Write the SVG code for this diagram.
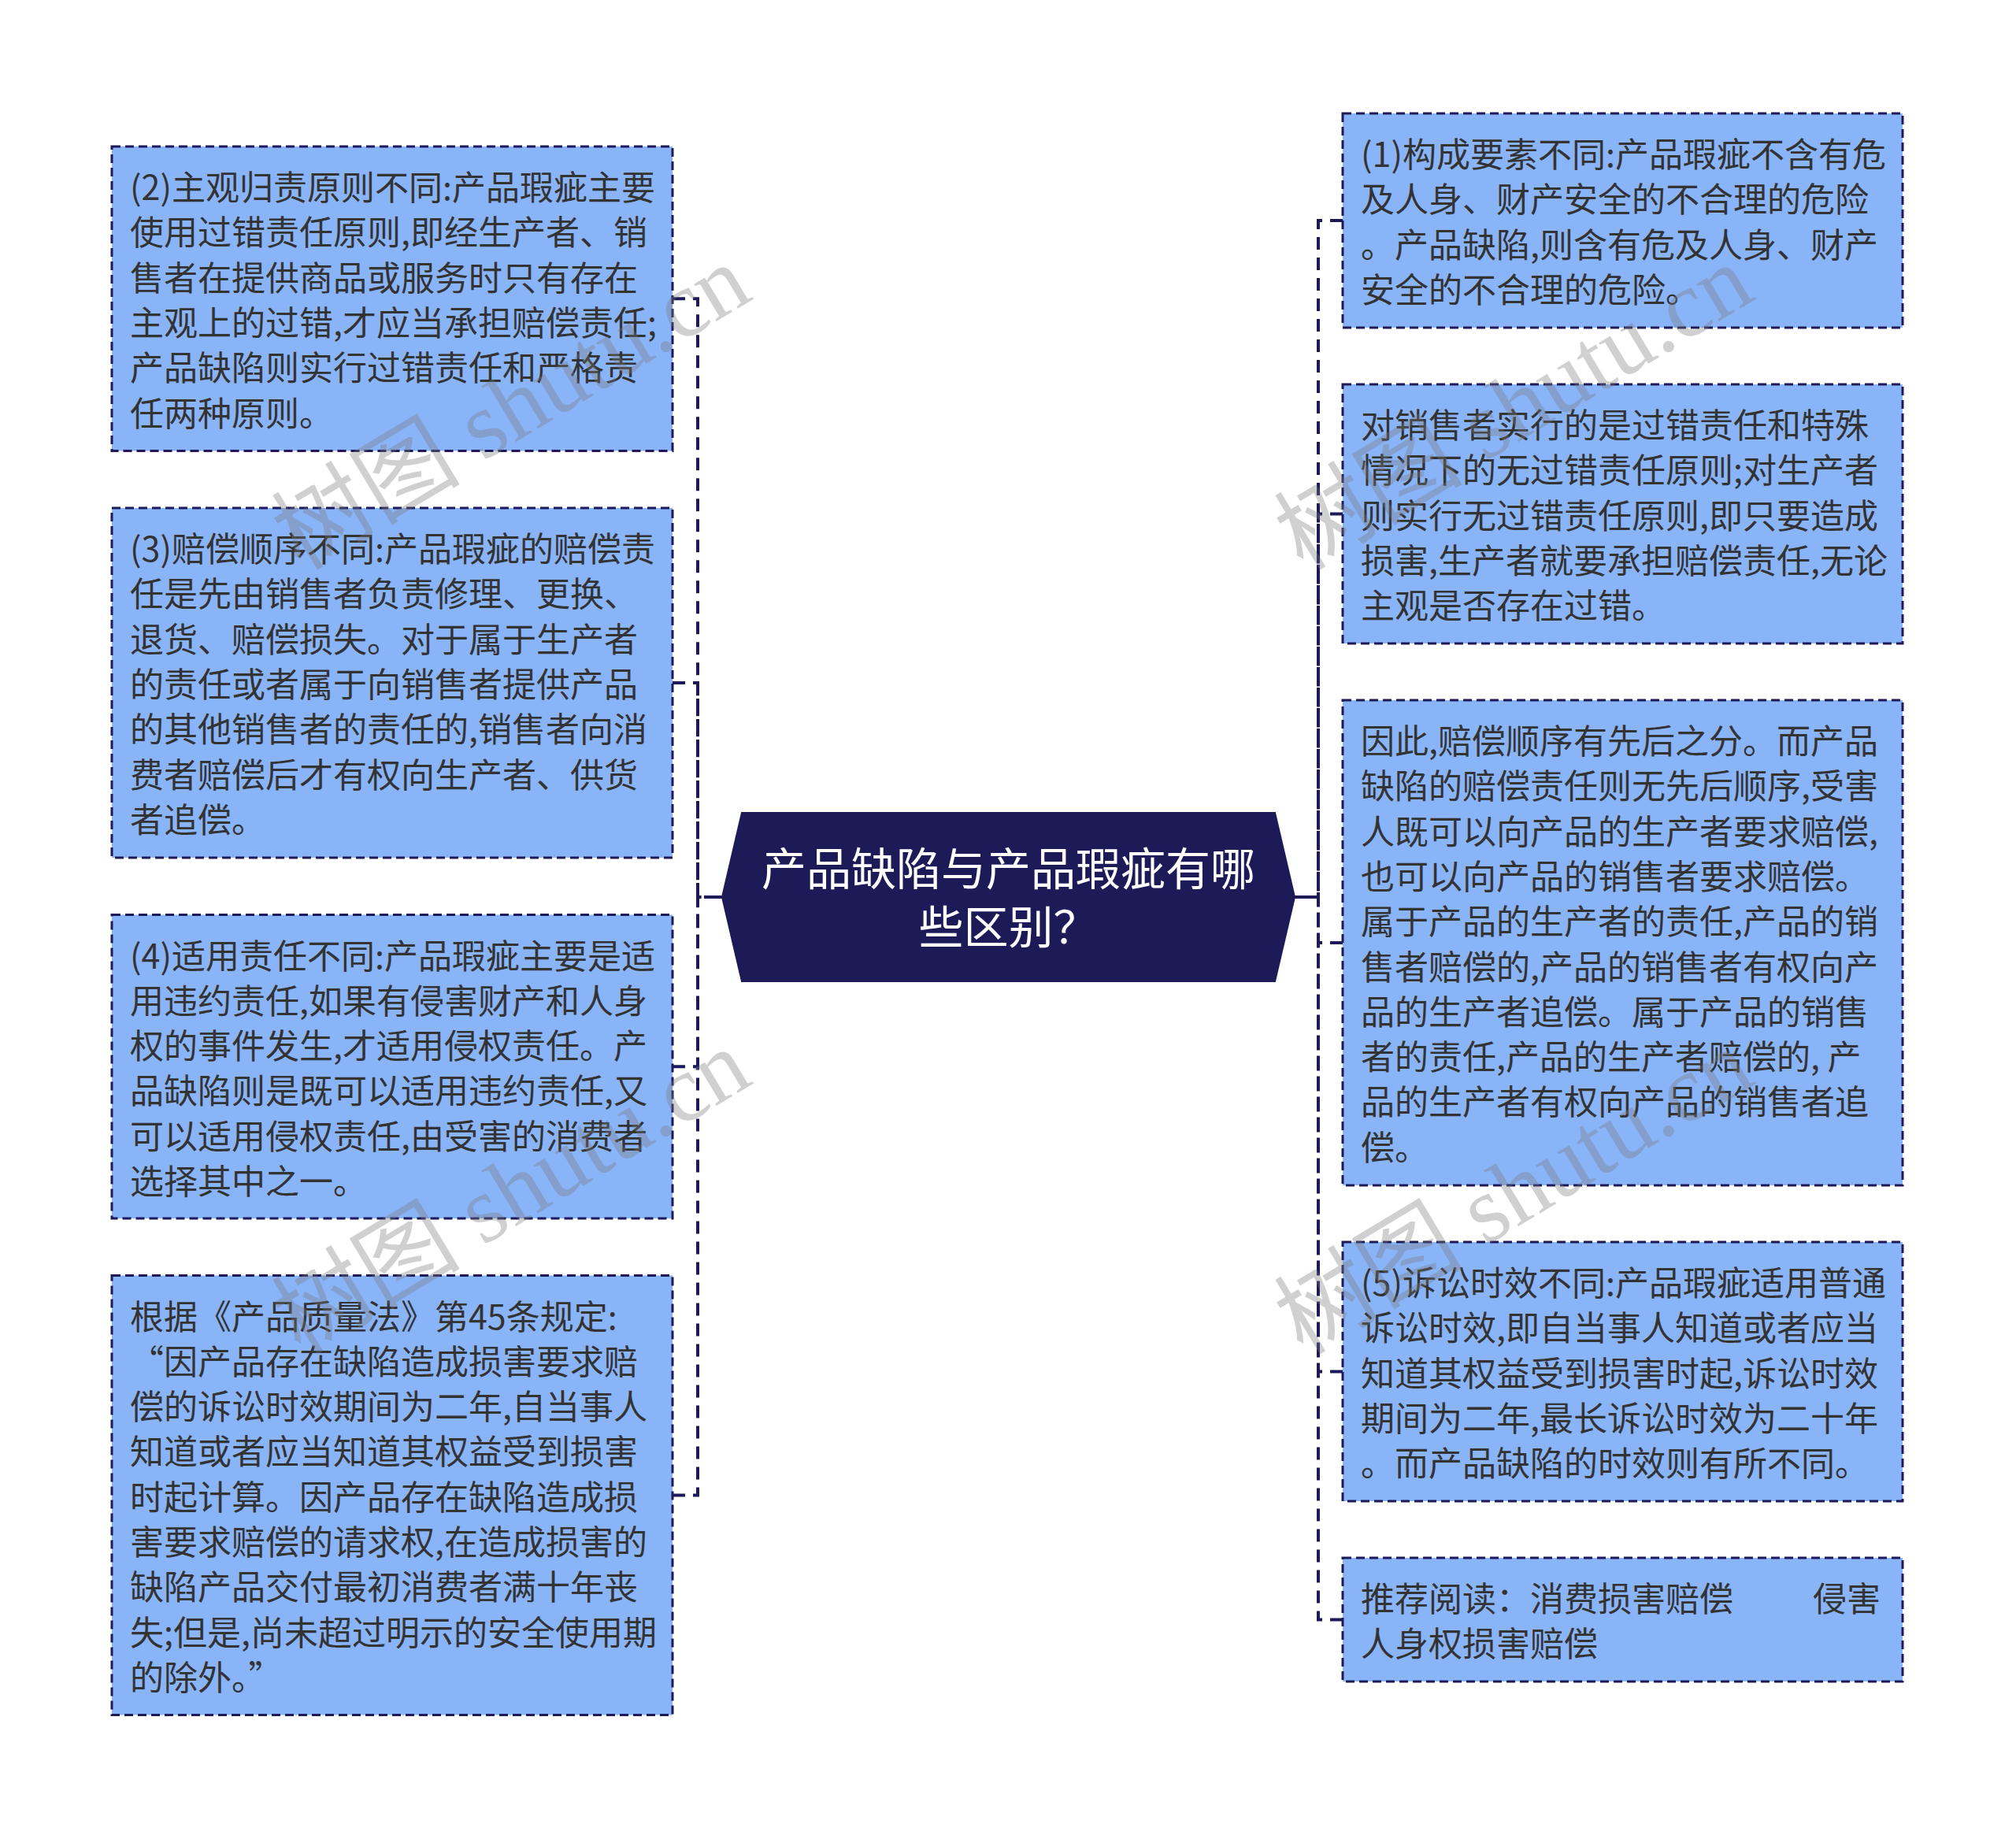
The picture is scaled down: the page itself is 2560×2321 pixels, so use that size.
<svg xmlns="http://www.w3.org/2000/svg" width="2560" height="2321" viewBox="0 0 2560 2321">
<style>
.box rect{fill:#8ab4f8;stroke:#1c1b58;stroke-width:3;stroke-dasharray:11 6;}
.box text{font-family:"Noto Sans CJK SC","Noto Sans",sans-serif;font-size:43px;fill:#333333;}
.conn path{fill:none;stroke:#1c1b58;stroke-width:4;stroke-dasharray:16 10;}
.center polygon{fill:#1c1b58;stroke:#1c1b58;stroke-width:2;}
.center text{font-family:"Noto Sans CJK SC","Noto Sans",sans-serif;font-size:57px;fill:#ffffff;text-anchor:middle;}
.wm text{font-family:"Liberation Serif","Noto Sans CJK SC",serif;font-size:120px;fill:#7a7a7a;opacity:0.35;text-anchor:middle;}
</style>
<rect width="2560" height="2321" fill="#ffffff"/>
<g id="connectors" class="conn">
<path d="M854 379.25H886V1139H917"/>
<path d="M854 867H886V1139H917"/>
<path d="M854 1354.25H886V1139H917"/>
<path d="M854 1898.5H886V1139H917"/>
<path d="M1705 280H1674V1139H1644"/>
<path d="M1705 652.5H1674V1139H1644"/>
<path d="M1705 1197H1674V1139H1644"/>
<path d="M1705 1741.5H1674V1139H1644"/>
<path d="M1705 2056.5H1674V1139H1644"/>
</g>
<g id="center" class="center">
<polygon points="917,1139 942,1032 1619,1032 1644,1139 1619,1246 942,1246"/>
<text x="1280.5" y="1124">产品缺陷与产品瑕疵有哪</text>
<text x="1280.5" y="1198">些区别？</text>
</g>
<g id="node-l1" class="box">
<rect x="142" y="186" width="712" height="386.5"/>
<text x="165" y="254"><tspan x="165">(2)主观归责原则不同:产品瑕疵主要</tspan><tspan x="165" dy="57.3">使用过错责任原则,即经生产者、销</tspan><tspan x="165" dy="57.3">售者在提供商品或服务时只有存在</tspan><tspan x="165" dy="57.3">主观上的过错,才应当承担赔偿责任;</tspan><tspan x="165" dy="57.3">产品缺陷则实行过错责任和严格责</tspan><tspan x="165" dy="57.3">任两种原则。</tspan></text>
</g>
<g id="node-l2" class="box">
<rect x="142" y="645" width="712" height="444"/>
<text x="165" y="713"><tspan x="165">(3)赔偿顺序不同:产品瑕疵的赔偿责</tspan><tspan x="165" dy="57.3">任是先由销售者负责修理、更换、</tspan><tspan x="165" dy="57.3">退货、赔偿损失。对于属于生产者</tspan><tspan x="165" dy="57.3">的责任或者属于向销售者提供产品</tspan><tspan x="165" dy="57.3">的其他销售者的责任的,销售者向消</tspan><tspan x="165" dy="57.3">费者赔偿后才有权向生产者、供货</tspan><tspan x="165" dy="57.3">者追偿。</tspan></text>
</g>
<g id="node-l3" class="box">
<rect x="142" y="1161.5" width="712" height="385.5"/>
<text x="165" y="1229.5"><tspan x="165">(4)适用责任不同:产品瑕疵主要是适</tspan><tspan x="165" dy="57.3">用违约责任,如果有侵害财产和人身</tspan><tspan x="165" dy="57.3">权的事件发生,才适用侵权责任。产</tspan><tspan x="165" dy="57.3">品缺陷则是既可以适用违约责任,又</tspan><tspan x="165" dy="57.3">可以适用侵权责任,由受害的消费者</tspan><tspan x="165" dy="57.3">选择其中之一。</tspan></text>
</g>
<g id="node-l4" class="box">
<rect x="142" y="1619.5" width="712" height="558"/>
<text x="165" y="1687.5"><tspan x="165">根据《产品质量法》第45条规定:</tspan><tspan x="165" dy="57.3">“因产品存在缺陷造成损害要求赔</tspan><tspan x="165" dy="57.3">偿的诉讼时效期间为二年,自当事人</tspan><tspan x="165" dy="57.3">知道或者应当知道其权益受到损害</tspan><tspan x="165" dy="57.3">时起计算。因产品存在缺陷造成损</tspan><tspan x="165" dy="57.3">害要求赔偿的请求权,在造成损害的</tspan><tspan x="165" dy="57.3">缺陷产品交付最初消费者满十年丧</tspan><tspan x="165" dy="57.3">失;但是,尚未超过明示的安全使用期</tspan><tspan x="165" dy="57.3">的除外。”</tspan></text>
</g>
<g id="node-r1" class="box">
<rect x="1705" y="144" width="711" height="272"/>
<text x="1728" y="212"><tspan x="1728">(1)构成要素不同:产品瑕疵不含有危</tspan><tspan x="1728" dy="57.3">及人身、财产安全的不合理的危险</tspan><tspan x="1728" dy="57.3">。产品缺陷,则含有危及人身、财产</tspan><tspan x="1728" dy="57.3">安全的不合理的危险。</tspan></text>
</g>
<g id="node-r2" class="box">
<rect x="1705" y="488" width="711" height="329"/>
<text x="1728" y="556"><tspan x="1728">对销售者实行的是过错责任和特殊</tspan><tspan x="1728" dy="57.3">情况下的无过错责任原则;对生产者</tspan><tspan x="1728" dy="57.3">则实行无过错责任原则,即只要造成</tspan><tspan x="1728" dy="57.3">损害,生产者就要承担赔偿责任,无论</tspan><tspan x="1728" dy="57.3">主观是否存在过错。</tspan></text>
</g>
<g id="node-r3" class="box">
<rect x="1705" y="889" width="711" height="616"/>
<text x="1728" y="957"><tspan x="1728">因此,赔偿顺序有先后之分。而产品</tspan><tspan x="1728" dy="57.3">缺陷的赔偿责任则无先后顺序,受害</tspan><tspan x="1728" dy="57.3">人既可以向产品的生产者要求赔偿,</tspan><tspan x="1728" dy="57.3">也可以向产品的销售者要求赔偿。</tspan><tspan x="1728" dy="57.3">属于产品的生产者的责任,产品的销</tspan><tspan x="1728" dy="57.3">售者赔偿的,产品的销售者有权向产</tspan><tspan x="1728" dy="57.3">品的生产者追偿。属于产品的销售</tspan><tspan x="1728" dy="57.3">者的责任,产品的生产者赔偿的, 产</tspan><tspan x="1728" dy="57.3">品的生产者有权向产品的销售者追</tspan><tspan x="1728" dy="57.3">偿。</tspan></text>
</g>
<g id="node-r4" class="box">
<rect x="1705" y="1577" width="711" height="329"/>
<text x="1728" y="1645"><tspan x="1728">(5)诉讼时效不同:产品瑕疵适用普通</tspan><tspan x="1728" dy="57.3">诉讼时效,即自当事人知道或者应当</tspan><tspan x="1728" dy="57.3">知道其权益受到损害时起,诉讼时效</tspan><tspan x="1728" dy="57.3">期间为二年,最长诉讼时效为二十年</tspan><tspan x="1728" dy="57.3">。而产品缺陷的时效则有所不同。</tspan></text>
</g>
<g id="node-r5" class="box">
<rect x="1705" y="1978" width="711" height="157"/>
<text x="1728" y="2046"><tspan x="1728">推荐阅读：消费损害赔偿</tspan><tspan x="2302">侵害</tspan><tspan x="1728" dy="57.3">人身权损害赔偿</tspan></text>
</g>
<g id="watermark" class="wm">
<text transform="translate(670,552) rotate(-31)">树图 shutu.cn</text>
<text transform="translate(670,1548) rotate(-31)">树图 shutu.cn</text>
<text transform="translate(1943,552) rotate(-31)">树图 shutu.cn</text>
<text transform="translate(1943,1548) rotate(-31)">树图 shutu.cn</text>
</g>
</svg>
